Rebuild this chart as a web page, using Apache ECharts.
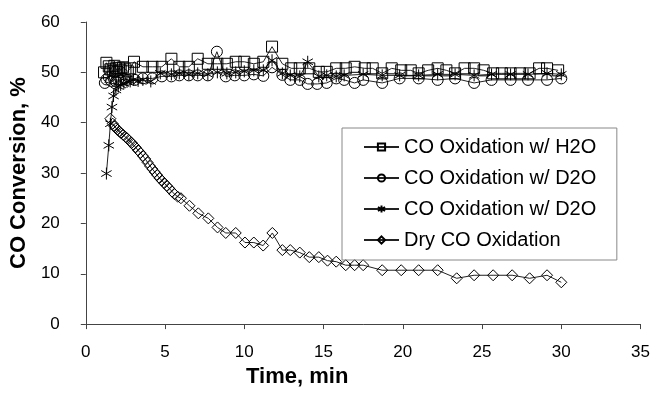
<!DOCTYPE html>
<html>
<head>
<meta charset="utf-8">
<script src="https://cdn.jsdelivr.net/npm/echarts@6/dist/echarts.min.js"></script>
<style>
html,body{margin:0;padding:0;background:#fff;}
#main{width:653px;height:393px;}
</style>
</head>
<body>
<div id="main"></div>
<script>
// time (min) and CO conversion (%)
var h2oTime = [1.15,1.3,1.45,1.55,1.7,1.8,1.9,2.0,2.1,2.2,2.35,2.5,2.65,2.8,3.04,3.6,4.2,4.8,5.4,5.9,6.5,7.06,7.7,8.3,8.9,9.46,10.0,10.6,11.2,11.75,12.4,12.96,13.5,14.1,14.7,15.2,15.8,16.4,16.96,17.6,18.1,18.7,19.3,19.9,20.5,21.0,21.6,22.2,22.75,23.3,23.9,24.5,25.1,25.7,26.25,26.8,27.4,28.0,28.6,29.1,29.8];
var h2oConv = [50.0,51.9,51.2,50.6,50.3,51.3,50.8,50.1,50.9,50.4,51.0,50.6,50.2,50.8,52.1,51.1,51.1,51.1,52.7,51.1,51.1,52.7,51.7,51.7,51.7,52.1,52.1,51.7,52.1,55.1,51.7,50.8,50.8,50.8,50.1,50.1,50.8,50.8,51.1,50.8,50.8,49.8,50.8,50.4,50.4,49.8,50.4,50.8,50.4,49.8,50.8,50.8,50.4,49.8,49.8,49.8,49.8,49.8,50.8,50.8,50.4];

var d2oTime = [1.2,1.3,1.45,1.6,1.75,1.9,2.05,2.2,2.4,2.6,3.1,3.6,4.2,4.8,5.4,5.9,6.5,7.06,7.7,8.27,8.83,9.4,10.0,10.6,11.2,11.75,12.4,12.9,13.5,14.0,14.6,15.2,15.8,16.3,16.96,17.5,18.7,19.8,21.0,22.2,23.3,24.5,25.6,26.8,27.9,29.1,30.0];
var d2oConv = [47.9,48.6,49.0,48.3,48.8,48.2,48.6,48.4,48.7,48.5,48.5,48.8,48.8,49.2,49.2,49.4,49.4,49.4,49.4,54.1,49.2,49.4,49.4,49.6,49.3,51.0,49.5,48.5,48.5,47.7,47.7,47.9,48.8,48.5,47.9,48.5,47.9,48.8,48.8,48.5,48.8,47.9,48.5,48.5,48.5,48.5,48.8];

var d2oBTime = [1.3,1.45,1.55,1.65,1.75,1.9,2.05,2.2,2.4,2.6,2.8,3.0,3.3,3.6,4.1,4.7,5.4,5.9,6.5,7.06,7.7,8.3,8.9,9.46,10.0,10.6,11.2,11.75,12.4,12.9,13.5,14.0,14.7,15.2,15.8,16.3,17.5,18.7,19.8,21.0,22.2,23.3,24.5,25.6,26.8,27.9,29.1,30.0];
var d2oBConv = [29.9,35.5,39.8,43.1,45.3,46.5,47.2,47.5,47.8,48.1,48.2,48.5,48.3,48.5,48.2,49.8,49.6,49.8,49.6,49.8,49.6,50.0,49.8,50.0,50.2,50.4,50.4,52.4,49.8,49.4,49.2,52.1,49.2,49.4,49.2,49.4,49.6,49.4,49.4,49.4,49.6,49.6,49.4,49.6,49.6,49.6,49.8,49.6];

var dryTime = [1.55,1.7,1.8,1.9,2.0,2.1,2.2,2.35,2.5,2.6,2.75,2.9,3.0,3.15,3.3,3.45,3.6,3.75,3.9,4.05,4.2,4.35,4.5,4.65,4.8,4.95,5.1,5.25,5.45,5.6,5.8,6.0,6.54,7.1,7.73,8.31,8.83,9.46,10.04,10.6,11.19,11.77,12.4,12.9,13.5,14.1,14.7,15.25,15.8,16.4,16.96,17.5,18.7,19.9,21.0,22.2,23.4,24.5,25.7,26.9,28.0,29.1,30.0];
var dryConv = [40.8,39.8,39.3,38.9,38.6,38.3,38.0,37.6,37.2,36.9,36.4,36.0,35.6,35.1,34.5,34.0,33.4,32.8,32.1,31.4,30.8,30.2,29.6,29.0,28.5,28.0,27.5,27.0,26.3,25.8,25.3,25.0,23.5,22.0,21.0,19.2,18.1,18.1,16.2,16.2,15.6,18.1,14.7,14.7,14.2,13.3,13.3,12.6,12.4,11.7,11.7,11.7,10.7,10.7,10.7,10.7,9.1,9.7,9.7,9.7,9.1,9.7,8.3];

var seriesNames = ['CO Oxidation w/ H2O', 'CO Oxidation w/ D2O', 'CO Oxidation w/ D2O ', 'Dry CO Oxidation'];

var FONT = 'Liberation Sans, Arial, sans-serif';
var starPath = 'path://M6,0L6,12M0.8,3L11.2,9M0.8,9L11.2,3';

function pairs(xs, ys) {
	var out = [];
	for (var i = 0; i < xs.length; i++) out.push([xs[i], ys[i]]);
	return out;
}

function mkSeries(name, xs, ys, symbol, size) {
	return {
		name: name,
		type: 'line',
		data: pairs(xs, ys),
		symbol: symbol,
		symbolSize: size,
		symbolKeepAspect: true,
		showAllSymbol: true,
		lineStyle: {color: '#222', width: 1},
		itemStyle: {color: 'rgba(0,0,0,0)', borderColor: '#000', borderWidth: 1},
		emphasis: {disabled: true}
	};
}

var myChart = echarts.init(document.getElementById('main'));
var option = {
	animation: false,
	backgroundColor: '#fff',
	grid: {left: 82, top: 22, right: 12, bottom: 59, containLabel: false},
	legend: {
		orient: 'vertical',
		left: 342, top: 128,
		padding: [9, 15, 10, 21],
		itemGap: 11,
		itemWidth: 35,
		itemHeight: 9,
		borderColor: '#888',
		borderWidth: 1,
		textStyle: {fontFamily: FONT, fontSize: 20, color: '#000', lineHeight: 20},
		data: seriesNames
	},
	xAxis: {
		type: 'value', min: 0, max: 35, interval: 5,
		name: 'Time, min', nameLocation: 'middle', nameGap: 40,
		nameTextStyle: {fontFamily: FONT, fontSize: 22, fontWeight: 'bold', color: '#000', padding: [0, 132, 0, 0]},
		axisLine: {lineStyle: {color: '#444', width: 1}},
		axisTick: {inside: false, length: 5, lineStyle: {color: '#444'}},
		axisLabel: {fontFamily: FONT, fontSize: 17, color: '#000', margin: 20},
		splitLine: {show: false}
	},
	yAxis: {
		type: 'value', min: 0, max: 60, interval: 10,
		name: 'CO Conversion, %', nameLocation: 'middle', nameGap: 49,
		nameTextStyle: {fontFamily: FONT, fontSize: 22, fontWeight: 'bold', color: '#000'},
		axisLine: {show: true, lineStyle: {color: '#444', width: 1}},
		axisTick: {show: true, inside: false, length: 5, lineStyle: {color: '#444'}},
		axisLabel: {fontFamily: FONT, fontSize: 17, color: '#000', margin: 26},
		splitLine: {show: false}
	},
	series: [
		mkSeries(seriesNames[0], h2oTime, h2oConv, 'rect', 11),
		mkSeries(seriesNames[1], d2oTime, d2oConv, 'circle', 11),
		mkSeries(seriesNames[2], d2oBTime, d2oBConv, starPath, 12),
		mkSeries(seriesNames[3], dryTime, dryConv, 'diamond', 11)
	]
};
myChart.setOption(option);
</script>
</body>
</html>
